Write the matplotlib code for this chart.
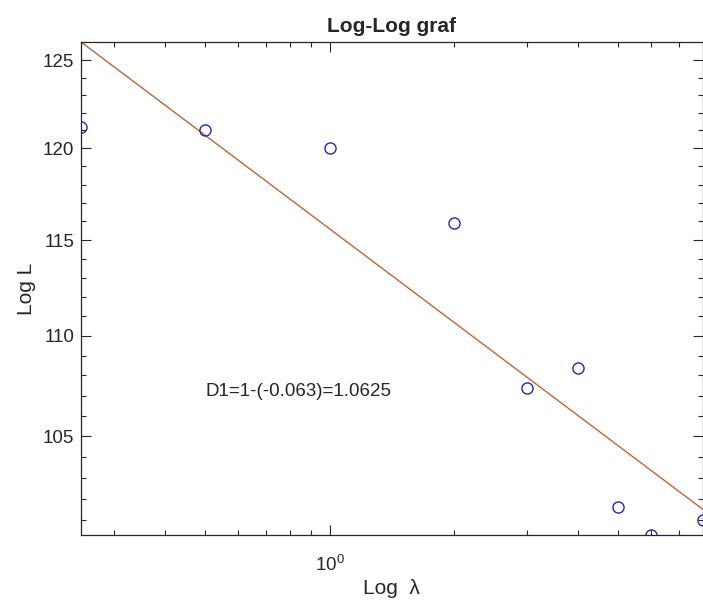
import matplotlib
matplotlib.use("Agg")
import matplotlib.pyplot as plt
import numpy as np
from matplotlib.ticker import FixedLocator, NullFormatter, LogLocator

# data
lam = [0.25, 0.5, 1, 2, 3, 4, 5, 6, 8]
log_l = [121.2, 121.0, 120.0, 115.9, 107.4, 108.4, 101.6, 100.3, 101.0]

# power-law fit L = c * lambda^slope
fit_slope = -0.0625
fit_c = 115.6
note = "D1=1-(-0.063)=1.0625"

y_major = [105, 110, 115, 120, 125]
y_minor = list(range(101, 126))

plt.rcParams["font.family"] = ["Liberation Sans", "DejaVu Sans"]
plt.rcParams["mathtext.fontset"] = "custom"
plt.rcParams["mathtext.rm"] = "Liberation Sans"
dark = "#262626"

fig = plt.figure(figsize=(7.03, 6.01), dpi=100)
ax = fig.add_axes([81 / 703, 1 - 535 / 601, 621.5 / 703, 493 / 601])

fit_x = np.array([lam[0], lam[-1]])
fit_y = fit_c * fit_x ** fit_slope
ax.plot(fit_x, fit_y, color="#BF6436", linewidth=1.0)
ax.plot(lam, log_l, linestyle="none", marker="o", markersize=8,
        markerfacecolor="none", markeredgecolor="#2424B8", markeredgewidth=1.0)

ax.set_xscale("log")
ax.set_yscale("log")
ax.set_xlim(lam[0], lam[-1])
ax.set_ylim(min(log_l), fit_y.max())

ax.xaxis.set_major_locator(FixedLocator([1]))
ax.xaxis.set_minor_locator(LogLocator(base=10, subs=np.arange(2, 10)))
ax.xaxis.set_minor_formatter(NullFormatter())
ax.yaxis.set_major_locator(FixedLocator(y_major))
ax.yaxis.set_minor_locator(FixedLocator(y_minor))
ax.set_yticklabels([str(v) for v in y_major])
ax.yaxis.set_minor_formatter(NullFormatter())

ax.tick_params(which="both", direction="in", top=True, right=True,
               colors=dark, labelsize=13.5, width=0.8)
ax.tick_params(which="major", length=7, pad=5)
ax.tick_params(which="minor", length=3.5)
ax.tick_params(axis="x", which="major", pad=14)
for sp in ax.spines.values():
    sp.set_color(dark)
    sp.set_linewidth(0.9)

ax.text(0.5, 107.2, note, ha="left", va="center", fontsize=13.5, color=dark)
ax.set_title("Log-Log graf", fontsize=15, fontweight="bold", color=dark, pad=7)
ax.set_xlabel("Log  λ", fontsize=15, color=dark, labelpad=3)
ax.set_ylabel("Log L", fontsize=15, color=dark, labelpad=5)

fig.savefig("out.png", dpi=100)
